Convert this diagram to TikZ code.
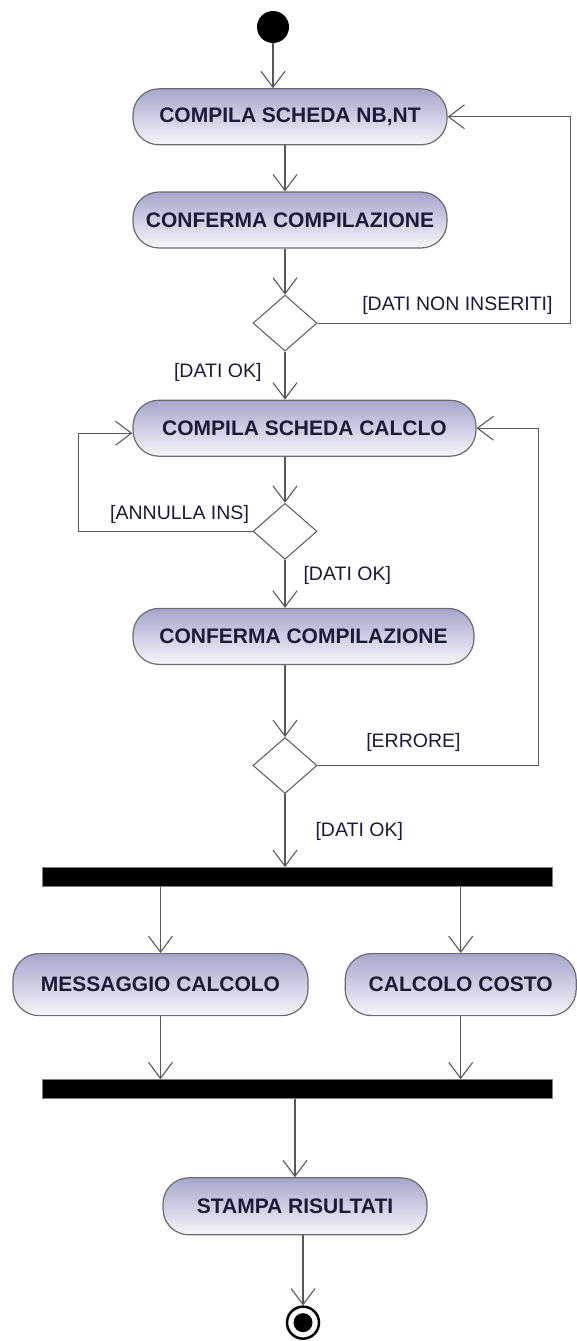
\documentclass[tikz,border=0pt]{standalone}
\usepackage{fontspec}
\setmainfont{Liberation Sans}
\usepackage{xcolor}
\usepackage{tikz}
\usetikzlibrary{shapes.geometric, arrows.meta, positioning}

\definecolor{actTop}{RGB}{166,166,204}
\definecolor{actBot}{RGB}{246,246,252}
\definecolor{actText}{RGB}{26,26,58}
\definecolor{wire}{RGB}{88,88,88}

\begin{document}
\begin{tikzpicture}[x=1pt, y=-1pt,
    action/.style={rectangle, draw=gray!85!black, line width=1.2pt, rounded corners=26pt, top color=actTop, bottom color=actBot, minimum height=56pt, inner sep=0pt, font=\fontsize{21}{24}\selectfont\bfseries, text=actText},
    choice/.style={diamond, draw=wire, line width=1pt, fill=white, minimum width=64pt, minimum height=56pt, inner sep=0pt},
    bar/.style={rectangle, fill=black, draw=gray, line width=1pt, minimum width=510pt, minimum height=19pt, inner sep=0pt},
    guard/.style={font=\fontsize{19.5}{22}\selectfont, text=actText, inner sep=0pt},
    flow/.style={-{Straight Barb[length=16pt, width=24pt]}, draw=wire, line width=1.1pt}]

    \useasboundingbox (0,0) rectangle (576,1341);

    \node (init) [circle, fill=black, minimum size=32pt, inner sep=0pt] at (273,27) {};

    \node (schedaNB) [action, minimum width=314pt, below=45pt of init, xshift=17pt] {COMPILA SCHEDA NB,NT};
    \node (confermaA) [action, minimum width=314pt, below=46pt of schedaNB] {CONFERMA COMPILAZIONE};
    \node (checkA) [choice, below=46pt of confermaA, xshift=-5pt] {};

    \node (schedaCalc) [action, minimum width=343pt, below=48pt of checkA, xshift=19.5pt] {COMPILA SCHEDA CALCLO};
    \node (checkB) [choice, below=46pt of schedaCalc, xshift=-19.5pt] {};
    \node (confermaB) [action, minimum width=341pt, below=48pt of checkB, xshift=18.5pt] {CONFERMA COMPILAZIONE};
    \node (checkC) [choice, below=72pt of confermaB, xshift=-18.5pt] {};

    \node (fork) [bar, below=73pt of checkC, xshift=12pt] {};
    \node (messaggio) [action, minimum width=295pt, minimum height=62pt, below=66pt of fork, xshift=-136.5pt] {MESSAGGIO CALCOLO};
    \node (costo) [action, minimum width=231pt, minimum height=62pt, right=36pt of messaggio] {CALCOLO COSTO};
    \node (join) [bar, below=63pt of messaggio, xshift=136.5pt] {};

    \node (stampa) [action, minimum width=264pt, minimum height=57pt, below=78pt of join, xshift=-2pt] {STAMPA RISULTATI};
    \node (fin) [circle, draw=black, line width=2.5pt, fill=white, minimum size=32pt, inner sep=0pt, below=70pt of stampa, xshift=8pt] {};
    \node (finDot) [circle, fill=black, minimum size=19pt, inner sep=0pt] at (fin) {};

    \draw [flow] (init) -- (init |- schedaNB.north);
    \draw [flow] (schedaNB.south -| checkA) -- (confermaA.north -| checkA);
    \draw [flow] (confermaA.south -| checkA) -- (checkA);
    \draw [flow] (checkA.east) -- node[guard, above=8pt, pos=0.553] {[DATI NON INSERITI]} ++(253,0) |- (schedaNB.east);
    \draw [flow] (checkA) -- node[guard, left=23pt, pos=0.43] {[DATI OK]} (checkA |- schedaCalc.north);

    \draw [flow] (schedaCalc.south -| checkB) -- (checkB);
    \draw [flow] (checkB.west) -- node[guard, above left=7pt and 3pt, pos=0] {[ANNULLA INS]} ++(-174,0) |- ([yshift=-5pt]schedaCalc.west);
    \draw [flow] (checkB) -- node[guard, right=18pt, pos=0.32] {[DATI OK]} (checkB |- confermaB.north);

    \draw [flow] (confermaB.south -| checkC) -- (checkC);
    \draw [flow] (checkC.east) -- node[guard, above=13pt, pos=0.434] {[ERRORE]} ++(221,0) |- (schedaCalc.east);
    \draw [flow] (checkC) -- node[guard, right=30pt, pos=0.51] {[DATI OK]} (checkC |- fork.north);

    \draw [flow] (fork.south -| messaggio.north) -- (messaggio.north);
    \draw [flow] (fork.south -| costo.north) -- (costo.north);
    \draw [flow] (messaggio.south) -- (messaggio.south |- join.north);
    \draw [flow] (costo.south) -- (costo.south |- join.north);
    \draw [flow] (join.south -| stampa.north) -- (stampa.north);
    \draw [flow] (stampa.south -| fin) -- (fin);

\end{tikzpicture}
\end{document}
